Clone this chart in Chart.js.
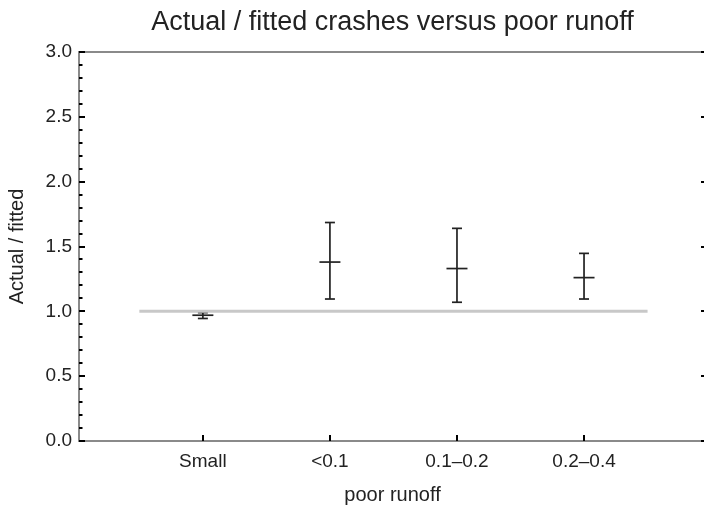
<!DOCTYPE html>
<html>
<head>
<meta charset="utf-8">
<title>Actual / fitted crashes versus poor runoff</title>
<script src="https://cdn.jsdelivr.net/npm/chart.js@4.4.1/dist/chart.umd.min.js"></script>
<style>
  html, body { margin: 0; padding: 0; background: #fff; overflow: hidden; }
  #wrap { width: 706px; height: 508px; }
</style>
</head>
<body>
<div id="wrap"><canvas id="chart" width="706" height="508"></canvas></div>
<script>
// categories along the x axis
const categories = ['Small', '<0.1', '0.1\u20130.2', '0.2\u20130.4'];
// ratio actual / fitted and its interval
const estimates = [0.97, 1.38, 1.33, 1.26];
const lower = [0.945, 1.095, 1.07, 1.095];
const upper = [0.99, 1.685, 1.64, 1.447];
// reference level
const refLevel = 1.0;
const refSpan = [0.5, 4.5];
// y tick labels
const yTicks = [0, 0.5, 1.0, 1.5, 2.0, 2.5, 3.0];

const font = "'Liberation Sans', Arial, sans-serif";
const barColor = '#222222';

// one line dataset per interval, caps drawn as 'line' points
const barSets = categories.map(function(c, i) {
    return {
        label: c,
        data: [{ x: i + 1, y: lower[i] }, { x: i + 1, y: upper[i] }],
        showLine: true,
        borderColor: barColor,
        borderWidth: 1.7,
        pointStyle: 'line',
        pointRadius: 5,
        pointHoverRadius: 5,
        pointBorderColor: barColor,
        pointBorderWidth: 1.7
    };
});

const centerSet = {
    label: 'estimate',
    data: estimates.map(function(v, i) { return { x: i + 1, y: v }; }),
    showLine: false,
    pointStyle: 'line',
    pointRadius: 10.5,
    pointHoverRadius: 10.5,
    pointBorderColor: barColor,
    pointBorderWidth: 1.7
};

const refSet = {
    label: 'reference',
    data: [{ x: refSpan[0], y: refLevel }, { x: refSpan[1], y: refLevel }],
    showLine: true,
    borderColor: '#c8c8c8',
    borderWidth: 3,
    pointRadius: 0,
    pointHoverRadius: 0
};

// gray frame with small inward ticks
const framePlugin = {
    id: 'frame',
    afterDraw: function(chart) {
        const ctx = chart.ctx;
        const a = chart.chartArea;
        const xs = chart.scales.x;
        const ys = chart.scales.y;
        ctx.save();
        ctx.strokeStyle = '#8a8a8a';
        ctx.lineWidth = 2;
        ctx.strokeRect(a.left, a.top, a.right - a.left, a.bottom - a.top);

        ctx.strokeStyle = '#000';
        ctx.lineWidth = 2;
        ctx.beginPath();
        for (let k = 0; k <= 30; k++) {
            const py = Math.round(ys.getPixelForValue(k / 10));
            const major = k % 5 === 0;
            ctx.moveTo(a.left, py);
            ctx.lineTo(a.left + (major ? 6 : 3.5), py);
            if (major) {
                ctx.moveTo(a.right, py);
                ctx.lineTo(a.right - 5, py);
            }
        }
        categories.forEach(function(c, i) {
            const px = Math.round(xs.getPixelForValue(i + 1));
            ctx.moveTo(px, a.bottom);
            ctx.lineTo(px, a.bottom - 6);
        });
        ctx.stroke();
        ctx.restore();
    }
};

new Chart(document.getElementById('chart'), {
    type: 'scatter',
    data: { datasets: [refSet].concat(barSets, [centerSet]) },
    options: {
        responsive: false,
        animation: false,
        layout: { padding: 0, autoPadding: false },
        plugins: {
            legend: { display: false },
            tooltip: { enabled: false },
            title: {
                display: true,
                text: 'Actual / fitted crashes versus poor runoff',
                color: '#222',
                fullSize: false,
                font: { family: font, size: 27, weight: 'normal' },
                padding: { top: 6, bottom: 13.6 }
            }
        },
        scales: {
            x: {
                type: 'linear',
                min: 0.025,
                max: 4.96,
                afterFit: function(s) {
                    s.height = 67;
                    s.paddingLeft = 0;
                    s.paddingRight = 0;
                },
                afterBuildTicks: function(s) {
                    s.ticks = categories.map(function(c, i) { return { value: i + 1 }; });
                },
                grid: { display: false, drawTicks: false },
                border: { display: false },
                ticks: {
                    color: '#222',
                    padding: 9.5,
                    autoSkip: false,
                    maxRotation: 0,
                    font: { family: font, size: 19 },
                    callback: function(v) { return categories[v - 1]; }
                },
                title: {
                    display: true,
                    text: 'poor runoff',
                    color: '#222',
                    font: { family: font, size: 20 },
                    padding: { top: 0, bottom: 1 }
                }
            },
            y: {
                type: 'linear',
                min: 0,
                max: 3,
                afterFit: function(s) {
                    s.width = 79;
                    s.paddingTop = 0;
                    s.paddingBottom = 0;
                },
                afterBuildTicks: function(s) {
                    s.ticks = yTicks.map(function(v) { return { value: v }; });
                },
                grid: { display: false, drawTicks: false },
                border: { display: false },
                ticks: {
                    color: '#222',
                    padding: 7,
                    font: { family: font, size: 19 },
                    callback: function(v) { return v.toFixed(1); }
                },
                title: {
                    display: true,
                    text: 'Actual / fitted',
                    color: '#222',
                    font: { family: font, size: 20 },
                    padding: { top: 5, bottom: 0 }
                }
            }
        }
    },
    plugins: [framePlugin]
});
</script>
</body>
</html>
